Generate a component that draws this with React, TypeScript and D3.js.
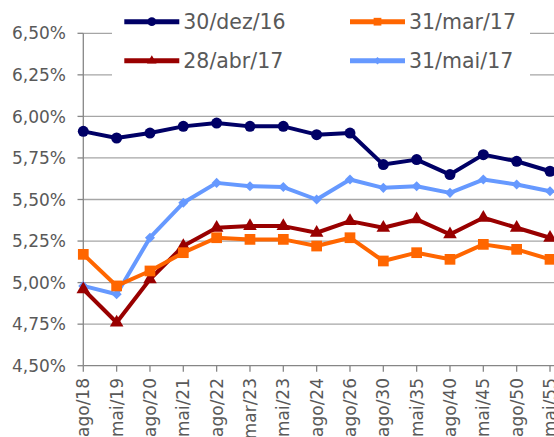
import React from 'react'
import * as d3 from 'd3'

const categories = ['ago/18', 'mai/19', 'ago/20', 'mai/21', 'ago/22', 'mar/23', 'mai/23', 'ago/24', 'ago/26', 'ago/30', 'mai/35', 'ago/40', 'mai/45', 'ago/50', 'mai/55']

const dez16 = [5.91, 5.87, 5.9, 5.94, 5.96, 5.94, 5.94, 5.89, 5.9, 5.71, 5.74, 5.65, 5.77, 5.73, 5.67]
const mar17 = [5.17, 4.98, 5.07, 5.18, 5.27, 5.26, 5.26, 5.22, 5.27, 5.13, 5.18, 5.14, 5.23, 5.2, 5.14]
const abr17 = [4.96, 4.76, 5.02, 5.22, 5.33, 5.34, 5.34, 5.3, 5.37, 5.33, 5.38, 5.29, 5.39, 5.33, 5.27]
const mai17 = [4.98, 4.93, 5.27, 5.48, 5.6, 5.58, 5.575, 5.5, 5.62, 5.57, 5.58, 5.54, 5.62, 5.59, 5.55]

const yTicks = [4.5, 4.75, 5, 5.25, 5.5, 5.75, 6, 6.25, 6.5]

const series = [
  {name: '30/dez/16', values: dez16, color: '#000066', symbol: d3.symbolCircle, size: 95, legendSize: 60},
  {name: '31/mar/17', values: mar17, color: '#FF6600', symbol: d3.symbolSquare, size: 115, legendSize: 60},
  {name: '28/abr/17', values: abr17, color: '#990000', symbol: d3.symbolTriangle, size: 80, legendSize: 40},
  {name: '31/mai/17', values: mai17, color: '#6699FF', symbol: d3.symbolDiamond2, size: 65, legendSize: 35}
]

// draw order: Excel puts the first series at the back
const drawOrder = [3, 2, 1, 0]

const W = 554
const H = 437
const font = 'DejaVu Sans, Verdana, sans-serif'
const textColor = '#595959'

export default function App() {
  const x = d3.scalePoint().domain(categories).range([83.3, 550])
  const y = d3.scaleLinear().domain([4.5, 6.5]).range([365.7, 33.3])
  const fmt = (v: number) => d3.format('.2f')(v).replace('.', ',') + '%'

  const line = d3
    .line<number>()
    .x((d, i) => x(categories[i]) as number)
    .y(d => y(d))

  const legendPos = [
    {lx: 124.3, ty: 21.7},
    {lx: 350, ty: 21.7},
    {lx: 124.3, ty: 60.7},
    {lx: 350, ty: 60.7}
  ]

  return (
    <svg width={W} height={H} style={{position: 'absolute', left: 0, top: 0}} fontFamily={font}>
      <rect width={W} height={H} fill="#fff" />
      {yTicks.map(t => (
        <g key={t}>
          {t > 4.5 && <line x1={83.3} x2={W + 5} y1={y(t)} y2={y(t)} stroke="#a6a6a6" strokeWidth={1.3} />}
          <line x1={77.5} x2={83.3} y1={y(t)} y2={y(t)} stroke="#868686" strokeWidth={1.3} />
          <text x={66} y={y(t)} dy="0.36em" textAnchor="end" fontSize={17} fill={textColor}>
            {fmt(t)}
          </text>
        </g>
      ))}
      <line x1={83.3} x2={83.3} y1={y(6.5)} y2={y(4.5)} stroke="#868686" strokeWidth={1.3} />
      <line x1={83.3} x2={W + 5} y1={y(4.5)} y2={y(4.5)} stroke="#868686" strokeWidth={1.3} />
      {categories.map(c => (
        <g key={c}>
          <line x1={x(c)} x2={x(c)} y1={y(4.5)} y2={y(4.5) + 6} stroke="#868686" strokeWidth={1.3} />
          <text
            transform={`translate(${x(c)},378) rotate(-90)`}
            dy="0.36em"
            textAnchor="end"
            fontSize={17}
            fill={textColor}
          >
            {c}
          </text>
        </g>
      ))}
      {drawOrder.map(i => {
        const s = series[i]
        return (
          <g key={s.name}>
            <path d={line(s.values) || ''} fill="none" stroke={s.color} strokeWidth={4} strokeLinejoin="round" />
            {s.values.map((v, j) => (
              <path
                key={j}
                transform={`translate(${x(categories[j])},${y(v)})`}
                d={d3.symbol().type(s.symbol).size(s.size)() || ''}
                fill={s.color}
              />
            ))}
          </g>
        )
      })}
      <rect x={112} y={4} width={418} height={86} fill="#fff" />
      {series.map((s, i) => {
        const p = legendPos[i]
        return (
          <g key={s.name}>
            <line x1={p.lx} x2={p.lx + 55} y1={p.ty} y2={p.ty} stroke={s.color} strokeWidth={5} />
            <path
              transform={`translate(${p.lx + 27.5},${p.ty})`}
              d={d3.symbol().type(s.symbol).size(s.legendSize)() || ''}
              fill={s.color}
            />
            <text x={p.lx + 59} y={p.ty} dy="0.36em" fontSize={20.5} fill={textColor}>
              {s.name}
            </text>
          </g>
        )
      })}
    </svg>
  )
}
